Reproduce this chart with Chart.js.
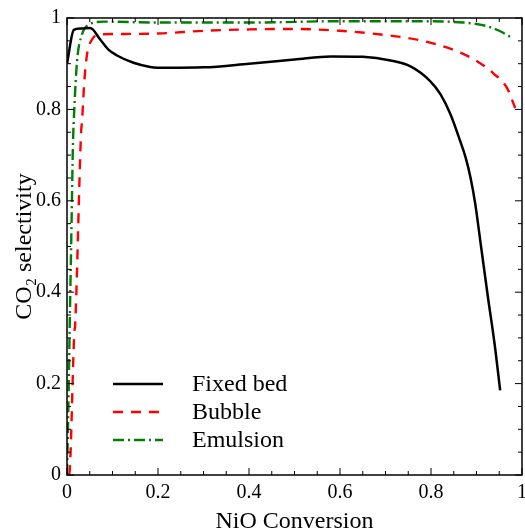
<!DOCTYPE html>
<html>
<head>
<meta charset="utf-8">
<script src="https://cdn.jsdelivr.net/npm/chart.js@4.4.0/dist/chart.umd.min.js"></script>
<style>
	body { margin: 0; background: #fff; }
	#wrap { width: 525px; height: 531px; }
</style>
</head>
<body>
<div id="wrap"><canvas id="selectivityChart" width="525" height="531"></canvas></div>
<script>
// NiO conversion vs CO2 selectivity
const fixedX = [0, 0.015, 0.03, 0.051, 0.073, 0.091, 0.11, 0.146, 0.183, 0.22, 0.3, 0.4, 0.5, 0.58, 0.65, 0.711, 0.755, 0.798, 0.821, 0.843, 0.864, 0.876, 0.887, 0.897, 0.91, 0.925, 0.94, 0.952];
const fixedY = [0.90, 0.974, 0.977, 0.978, 0.953, 0.931, 0.918, 0.902, 0.893, 0.891, 0.892, 0.9, 0.909, 0.916, 0.915, 0.907, 0.894, 0.862, 0.833, 0.789, 0.731, 0.695, 0.65, 0.595, 0.5, 0.39, 0.285, 0.185];

const bubbleX = [0.004, 0.006, 0.016, 0.018, 0.031, 0.033, 0.038, 0.044, 0.055, 0.073, 0.1, 0.2, 0.3, 0.4, 0.5, 0.6, 0.689, 0.777, 0.858, 0.902, 0.937, 0.967, 0.985];
const bubbleY = [0, 0.01, 0.31, 0.33, 0.75, 0.774, 0.86, 0.92, 0.953, 0.964, 0.965, 0.966, 0.972, 0.975, 0.976, 0.972, 0.964, 0.951, 0.927, 0.905, 0.879, 0.847, 0.803];

const emulsionX = [0, 0.003, 0.006, 0.01, 0.013, 0.016, 0.022, 0.033, 0.047, 0.08, 0.2, 0.4, 0.6, 0.8, 0.871, 0.9, 0.923, 0.952, 0.975];
const emulsionY = [0, 0.15, 0.33, 0.55, 0.72, 0.8, 0.905, 0.964, 0.985, 0.992, 0.99, 0.99, 0.993, 0.993, 0.99, 0.987, 0.982, 0.971, 0.958];

const seriesNames = ['Fixed bed', 'Bubble', 'Emulsion'];
const tickValues = [0, 0.2, 0.4, 0.6, 0.8, 1];

const serif = "'Liberation Serif', 'Times New Roman', serif";

function toPoints(xs, ys){
	return xs.map((x, i) => ({x: x, y: ys[i]}));
}

function fmt(v){
	return String(+v.toFixed(2));
}

// frame, inward ticks (all four sides) and the in-plot legend
const framePlugin = {
	id: 'frame',
	afterDatasetsDraw(chart){
		const ctx = chart.ctx;
		const a = chart.chartArea;
		const xs = chart.scales.x, ys = chart.scales.y;
		ctx.save();
		ctx.strokeStyle = '#000';
		ctx.lineWidth = 1;
		ctx.beginPath();
		for(let v = 0; v <= 1.0001; v += 0.05){
			const major = Math.abs(v / 0.2 - Math.round(v / 0.2)) < 1e-6;
			const len = major ? 7 : 4;
			const px = xs.getPixelForValue(v);
			ctx.moveTo(px, a.bottom); ctx.lineTo(px, a.bottom - len);
			ctx.moveTo(px, a.top); ctx.lineTo(px, a.top + len);
			const py = ys.getPixelForValue(v);
			ctx.moveTo(a.left, py); ctx.lineTo(a.left + len, py);
			ctx.moveTo(a.right, py); ctx.lineTo(a.right - len, py);
		}
		ctx.stroke();
		ctx.lineWidth = 1.5;
		ctx.strokeRect(a.left, a.top, a.right - a.left, a.bottom - a.top);

		// legend
		const rowY = [384, 412, 440];
		chart.data.datasets.forEach((ds, i) => {
			ctx.beginPath();
			ctx.strokeStyle = ds.borderColor;
			ctx.lineWidth = ds.borderWidth;
			ctx.setLineDash(ds.borderDash || []);
			ctx.moveTo(113, rowY[i]);
			ctx.lineTo(163, rowY[i]);
			ctx.stroke();
			ctx.setLineDash([]);
			ctx.fillStyle = '#000';
			ctx.font = '24px ' + serif;
			ctx.textBaseline = 'middle';
			ctx.textAlign = 'left';
			ctx.fillText(ds.label, 192, rowY[i] + 1);
		});
		ctx.restore();
	}
};

document.addEventListener("DOMContentLoaded", () => {
	const el = document.getElementById('selectivityChart').getContext('2d');
	const selectivityChart = new Chart(el, {
		type: 'scatter',
		data: {
			datasets: [
				{
					label: seriesNames[0],
					data: toPoints(fixedX, fixedY),
					borderColor: '#000000',
					borderWidth: 2.5,
					showLine: true,
					pointRadius: 0,
					cubicInterpolationMode: 'monotone'
				},
				{
					label: seriesNames[1],
					data: toPoints(bubbleX, bubbleY),
					borderColor: '#ff0000',
					borderWidth: 2.4,
					borderDash: [10, 8],
					showLine: true,
					pointRadius: 0,
					cubicInterpolationMode: 'monotone'
				},
				{
					label: seriesNames[2],
					data: toPoints(emulsionX, emulsionY),
					borderColor: '#008000',
					borderWidth: 2.4,
					borderDash: [11, 4, 2, 4],
					showLine: true,
					pointRadius: 0,
					cubicInterpolationMode: 'monotone'
				}
			]
		},
		options: {
			responsive: false,
			animation: false,
			layout: { padding: { top: 17, right: 3, left: 0, bottom: 0 } },
			plugins: {
				legend: { display: false },
				tooltip: { enabled: false }
			},
			scales: {
				x: {
					type: 'linear',
					min: 0, max: 1,
					afterBuildTicks: s => { s.ticks = tickValues.map(v => ({value: v})); },
					afterFit: s => { s.height = 56; s.paddingLeft = 0; s.paddingRight = 0; },
					grid: { display: false, drawTicks: false },
					border: { display: false },
					ticks: {
						padding: 6,
						color: '#000',
						font: { family: serif, size: 20 },
						maxRotation: 0,
						callback: v => fmt(v)
					},
					title: {
						display: true,
						text: 'NiO Conversion',
						color: '#000',
						font: { family: serif, size: 24, lineHeight: 0.75 },
						padding: { top: 0, bottom: 0 }
					}
				},
				y: {
					type: 'linear',
					min: 0, max: 1,
					afterBuildTicks: s => { s.ticks = tickValues.map(v => ({value: v})); },
					afterFit: s => { s.width = 67; },
					grid: { display: false, drawTicks: false },
					border: { display: false },
					ticks: {
						padding: 6,
						color: '#000',
						font: { family: serif, size: 20 },
						callback: v => fmt(v)
					},
					title: {
						display: true,
						text: 'CO₂ selectivity',
						color: '#000',
						font: { family: serif, size: 24 },
						padding: { top: 10, bottom: 0 }
					}
				}
			}
		},
		plugins: [framePlugin]
	});
});
</script>
</body>
</html>
